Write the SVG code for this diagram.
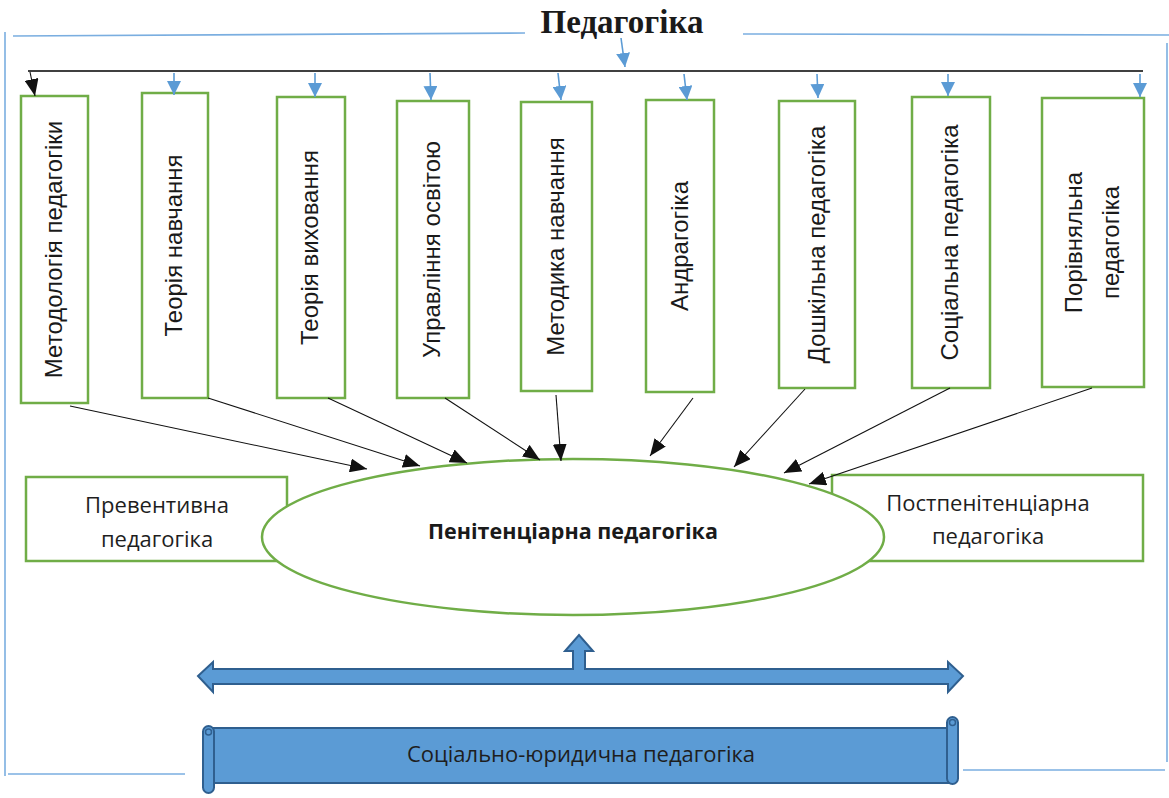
<svg xmlns="http://www.w3.org/2000/svg" width="1169" height="798" viewBox="0 0 1169 798">
<style>
.box{fill:#fff;stroke:#70ad47;stroke-width:2.5}
.vt{font-family:"Liberation Sans",Arial,sans-serif;font-size:24px;fill:#1a1a1a;text-anchor:middle}
.ht{font-family:"Open Sans","Noto Sans",sans-serif;font-size:22px;fill:#1e1e1e;text-anchor:middle}
.frame{stroke:#7aaee0;stroke-width:1.6;fill:none}
.bl{stroke:#5b9bd5;stroke-width:1.6;fill:none}
.ck{stroke:#111;stroke-width:1.1;fill:none}
.shape{fill:#5b9bd5;stroke:#2f5f8f;stroke-width:2}
</style>
<defs>
<marker id="ab" markerUnits="userSpaceOnUse" markerWidth="17" markerHeight="14" viewBox="0 0 17 14" refX="17" refY="7" orient="auto"><path d="M0,0 L17,7 L0,14 z" fill="#111"/></marker>
<marker id="au" markerUnits="userSpaceOnUse" markerWidth="14" markerHeight="14" viewBox="0 0 14 14" refX="14" refY="7" orient="auto"><path d="M0,0 L14,7 L0,14 z" fill="#5b9bd5"/></marker>
</defs>
<rect width="1169" height="798" fill="#fff"/>

<g id="frame">
<line class="frame" x1="13" y1="36" x2="525" y2="33"/>
<line class="frame" x1="743" y1="34" x2="1169" y2="35"/>
<line class="frame" x1="5" y1="32" x2="5" y2="776"/>
<line class="frame" x1="1167" y1="43" x2="1167" y2="762"/>
<line class="frame" x1="8" y1="774" x2="185" y2="774"/>
<line class="frame" x1="963" y1="770" x2="1165" y2="770"/>
</g>

<g id="title">
<text x="622" y="33" font-family="'Liberation Serif','Times New Roman',serif" font-size="33" font-weight="bold" text-anchor="middle" fill="#1a1a1a">Педагогіка</text>
</g>

<g id="n1"><rect class="box" x="21" y="96" width="67" height="307"/><text class="vt" transform="translate(61.5,249.5) rotate(-90)">Методологія педагогіки</text></g>
<g id="n2"><rect class="box" x="142" y="93" width="66" height="305"/><text class="vt" transform="translate(182,245.5) rotate(-90)">Теорія навчання</text></g>
<g id="n3"><rect class="box" x="277" y="97" width="68" height="301"/><text class="vt" transform="translate(318,247.5) rotate(-90)">Теорія виховання</text></g>
<g id="n4"><rect class="box" x="397" y="101" width="72" height="297"/><text class="vt" transform="translate(440,249.5) rotate(-90)">Управління освітою</text></g>
<g id="n5"><rect class="box" x="521" y="102" width="71" height="289"/><text class="vt" transform="translate(564,246.5) rotate(-90)">Методика навчання</text></g>
<g id="n6"><rect class="box" x="646" y="100" width="68" height="292"/><text class="vt" transform="translate(687.5,246) rotate(-90)">Андрагогіка</text></g>
<g id="n7"><rect class="box" x="779" y="101" width="76" height="287"/><text class="vt" transform="translate(824.5,244.5) rotate(-90)">Дошкільна педагогіка</text></g>
<g id="n8"><rect class="box" x="912" y="97" width="78" height="291"/><text class="vt" transform="translate(958,242.5) rotate(-90)">Соціальна педагогіка</text></g>
<g id="n9"><rect class="box" x="1042" y="98" width="102" height="289"/><text class="vt" transform="translate(1082,242.5) rotate(-90)">Порівняльна</text><text class="vt" transform="translate(1119,242.5) rotate(-90)">педагогіка</text></g>

<g id="n10"><rect class="box" x="26" y="477" width="261" height="84"/><text class="ht" x="157" y="513">Превентивна</text><text class="ht" x="157" y="547">педагогіка</text></g>
<g id="n11"><rect class="box" x="832" y="475" width="311" height="86"/><text class="ht" x="988" y="511">Постпенітенціарна</text><text class="ht" x="988" y="544">педагогіка</text></g>

<g id="n12"><ellipse cx="573" cy="537" rx="311" ry="78" fill="#fff" stroke="#70ad47" stroke-width="2.5"/><text x="573" y="539" font-family="'Open Sans','Noto Sans',sans-serif" font-size="21.5" font-weight="bold" text-anchor="middle" fill="#1a1a1a">Пенітенціарна педагогіка</text></g>

<g id="n13">
<polygon class="shape" points="198,676 213,662 213,669 573,669 573,651 565,651 579,635 593,651 585,651 585,669 948,669 948,662 963,676 948,692 948,684 213,684 213,692"/>
</g>

<g id="n14">
<rect class="shape" x="208" y="728" width="745" height="55"/>
<rect class="shape" x="203" y="726" width="11" height="67" rx="5.5"/>
<circle cx="208.5" cy="732" r="3" fill="none" stroke="#2f5f8f" stroke-width="1.5"/>
<rect class="shape" x="947" y="717" width="11" height="67" rx="5.5"/>
<circle cx="952.5" cy="722.5" r="3" fill="none" stroke="#2f5f8f" stroke-width="1.5"/>
<text class="ht" x="581" y="762">Соціально-юридична педагогіка</text>
</g>

<g id="connectors">
<line x1="28" y1="71" x2="1143" y2="71" stroke="#404040" stroke-width="1.8"/>
<line class="bl" x1="621" y1="38" x2="625" y2="67" marker-end="url(#au)"/>
<line class="ck" x1="30" y1="72" x2="35" y2="96" marker-end="url(#ab)"/>
<line class="bl" x1="174" y1="73" x2="174" y2="95" marker-end="url(#au)"/>
<line class="bl" x1="315" y1="73" x2="315" y2="97" marker-end="url(#au)"/>
<line class="bl" x1="430" y1="73" x2="431" y2="100" marker-end="url(#au)"/>
<line class="bl" x1="558" y1="73" x2="561" y2="100" marker-end="url(#au)"/>
<line class="bl" x1="684" y1="74" x2="687" y2="100" marker-end="url(#au)"/>
<line class="bl" x1="817" y1="74" x2="818" y2="98" marker-end="url(#au)"/>
<line class="bl" x1="948" y1="74" x2="948" y2="96" marker-end="url(#au)"/>
<line class="bl" x1="1140" y1="74" x2="1140" y2="97" marker-end="url(#au)"/>
<line class="ck" x1="70" y1="406" x2="367" y2="469" marker-end="url(#ab)"/>
<line class="ck" x1="208" y1="398" x2="420" y2="466" marker-end="url(#ab)"/>
<line class="ck" x1="328" y1="398" x2="467" y2="463" marker-end="url(#ab)"/>
<line class="ck" x1="445" y1="398" x2="540" y2="460" marker-end="url(#ab)"/>
<line class="ck" x1="556" y1="395" x2="561" y2="461" marker-end="url(#ab)"/>
<line class="ck" x1="693" y1="398" x2="650" y2="456" marker-end="url(#ab)"/>
<line class="ck" x1="805" y1="389" x2="734" y2="467" marker-end="url(#ab)"/>
<line class="ck" x1="950" y1="388" x2="784" y2="473" marker-end="url(#ab)"/>
<line class="ck" x1="1092" y1="388" x2="809" y2="484" marker-end="url(#ab)"/>
</g>
</svg>
